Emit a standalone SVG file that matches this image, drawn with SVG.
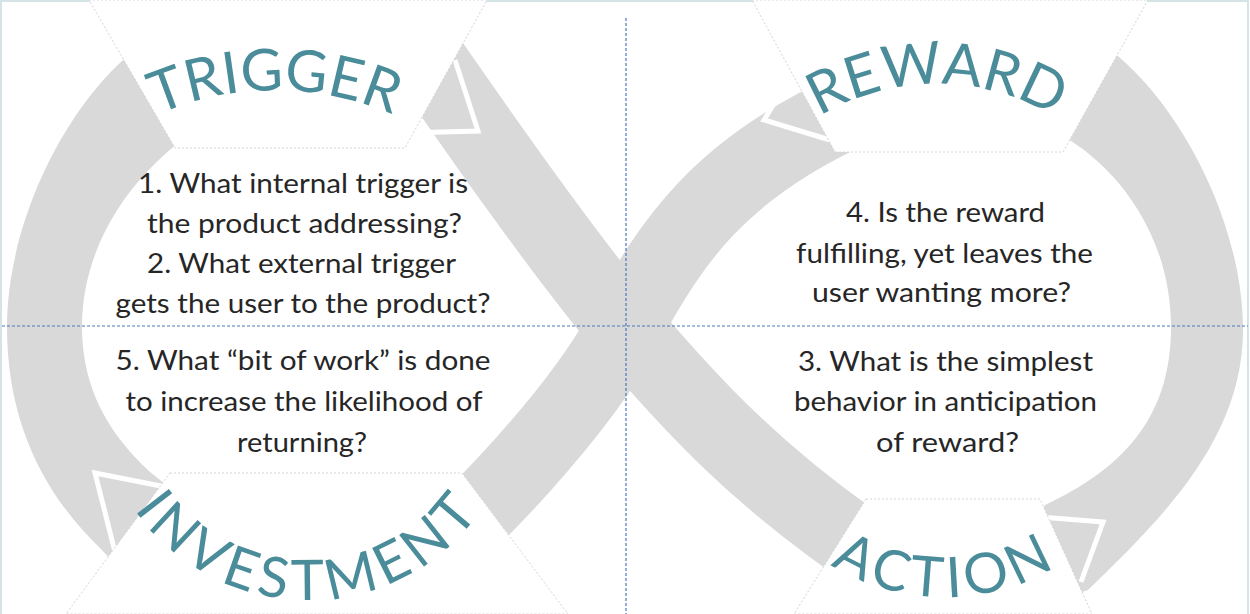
<svg xmlns="http://www.w3.org/2000/svg" width="1250" height="614" viewBox="0 0 1250 614">
<style>
.band{fill:#d9d9d9}
.bandS{fill:none;stroke:#d9d9d9;stroke-width:76;stroke-linecap:butt}
.notch{fill:none;stroke:#ffffff;stroke-width:5;stroke-linejoin:miter}
.panel{fill:#ffffff;stroke:#d4d4d4;stroke-width:1;stroke-dasharray:2 2}
.label{font-family:Lato,"Open Sans","Liberation Sans",sans-serif;font-size:58px;fill:#4a8c99;text-anchor:middle}
.q{font-family:Lato,"Liberation Sans",sans-serif;font-size:26px;fill:#262626;text-anchor:middle}
.guide{stroke:#4a78b8;stroke-width:1.2;stroke-dasharray:3 2;fill:none}
</style>
<defs>
<path id="arcTrigger" d="M 86,159 A 294,294 0 0 1 464,159"/>
<path id="arcReward" d="M 789,138 A 230,230 0 0 1 1085,138"/>
<path id="arcInvest" d="M 124.4,494 A 212,212 0 0 0 491.6,494"/>
<path id="arcAction" d="M 759,490 A 215,215 0 0 0 1131,490"/>
</defs>
<rect x="1" y="1" width="1247" height="630" fill="#ffffff" stroke="#d3e3e6" stroke-width="2"/>

<g id="connectors">
<path class="band" d="M 185,22 C 95,50 7,200 7,327 C 7,430 50,500 100,548 L 125,575 L 175,492 L 150,472 C 110,435 82,390 82,327 C 82,230 150,150 230,110 Z"/>
<path class="band" d="M 1060,22 C 1150,50 1243,200 1243,330 C 1243,440 1160,520 1088,590 L 1060,600 L 1025,540 L 1045,505 C 1120,470 1171,420 1171,327 C 1171,230 1110,150 1030,120 Z"/>
<path class="bandS" d="M 400,580 C 470,530 580,410 625,327 C 672,240 720,170 850,110"/>
<path class="bandS" d="M 425,55 C 470,120 560,250 625,327 C 690,404 760,480 880,560"/>
<polyline class="notch" points="166,487 95,473 115,552"/>
<polyline class="notch" points="455,60 478,131 405,133"/>
<polyline class="notch" points="797,66 764,120 830,140"/>
<polyline class="notch" points="1040,517 1103,522 1081,582"/>
</g>

<g id="trigger">
<polygon class="panel" points="89,0 487,0 405,148 175,148"/>
<text class="label"><textPath href="#arcTrigger" startOffset="50%">TRIGGER</textPath></text>
</g>
<g id="reward">
<polygon class="panel" points="752,0 1148,0 1063,152 835,152"/>
<text class="label"><textPath href="#arcReward" startOffset="50%">REWARD</textPath></text>
</g>
<g id="investment">
<polygon class="panel" points="170,473 462,473 568,614 66,614"/>
<text class="label" style="font-size:56px;letter-spacing:5.5px"><textPath href="#arcInvest" startOffset="50%">INVESTMENT</textPath></text>
</g>
<g id="action">
<polygon class="panel" points="866,499 1040,499 1092,614 794,614"/>
<text class="label" style="font-size:56px;letter-spacing:5px"><textPath href="#arcAction" startOffset="50%">ACTION</textPath></text>
</g>

<g id="q-trigger">
<text class="q" x="303" y="193" textLength="330" lengthAdjust="spacingAndGlyphs">1. What internal trigger is</text>
<text class="q" x="304.5" y="233" textLength="315" lengthAdjust="spacingAndGlyphs">the product addressing?</text>
<text class="q" x="301.5" y="273" textLength="309" lengthAdjust="spacingAndGlyphs">2. What external trigger</text>
<text class="q" x="303" y="313" textLength="375" lengthAdjust="spacingAndGlyphs">gets the user to the product?</text>
</g>
<g id="q-investment">
<text class="q" x="303" y="370" textLength="375" lengthAdjust="spacingAndGlyphs">5. What “bit of work” is done</text>
<text class="q" x="304" y="411" textLength="357" lengthAdjust="spacingAndGlyphs">to increase the likelihood of</text>
<text class="q" x="302" y="452" textLength="130" lengthAdjust="spacingAndGlyphs">returning?</text>
</g>
<g id="q-reward">
<text class="q" x="945.5" y="222" textLength="199" lengthAdjust="spacingAndGlyphs">4. Is the reward</text>
<text class="q" x="944.5" y="263" textLength="297" lengthAdjust="spacingAndGlyphs">fulfilling, yet leaves the</text>
<text class="q" x="941.5" y="302" textLength="259" lengthAdjust="spacingAndGlyphs">user wanting more?</text>
</g>
<g id="q-action">
<text class="q" x="945.5" y="371" textLength="295" lengthAdjust="spacingAndGlyphs">3. What is the simplest</text>
<text class="q" x="945.5" y="411" textLength="303" lengthAdjust="spacingAndGlyphs">behavior in anticipation</text>
<text class="q" x="947.5" y="452" textLength="143" lengthAdjust="spacingAndGlyphs">of reward?</text>
</g>

<g id="guides">
<line class="guide" x1="2" y1="326" x2="1248" y2="326"/>
<line class="guide" x1="626" y1="18" x2="626" y2="614"/>
</g>
</svg>
